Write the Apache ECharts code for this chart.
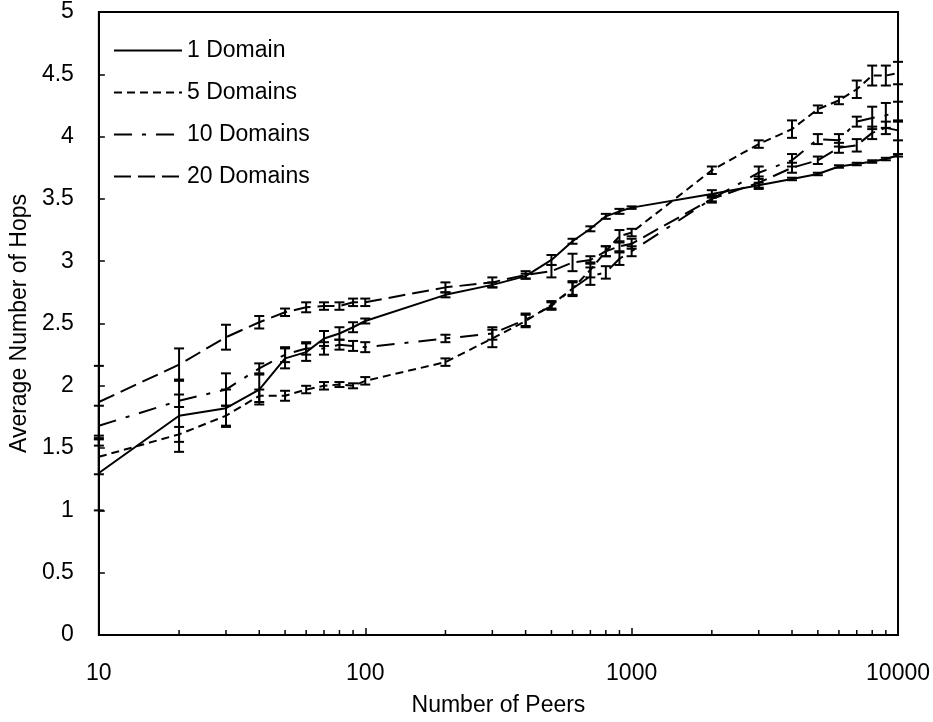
<!DOCTYPE html>
<html>
<head>
<meta charset="utf-8">
<script src="https://cdn.jsdelivr.net/npm/echarts@6/dist/echarts.min.js"></script>
<style>
  html, body { margin: 0; padding: 0; background: #fff; }
  #chart { width: 933px; height: 722px; }
</style>
</head>
<body>
<div id="chart"></div>
<script>
// Number of peers (x positions on the log axis)
const peers = [10, 20, 30, 40, 50, 60, 70, 80, 90, 100,
  200, 300, 400, 500, 600, 700, 800, 900, 1000,
  2000, 3000, 4000, 5000, 6000, 7000, 8000, 9000, 10000];

// Mean number of hops per domain count
const hops1 = [1.30, 1.76, 1.82, 1.97, 2.22, 2.27, 2.38, 2.42, 2.47, 2.52,
  2.73, 2.81, 2.88, 3.01, 3.16, 3.26, 3.36, 3.40, 3.43,
  3.54, 3.61, 3.66, 3.70, 3.76, 3.78, 3.80, 3.82, 3.85];
const hops5 = [1.43, 1.61, 1.76, 1.92, 1.92, 1.97, 2.00, 2.01, 2.00, 2.04,
  2.19, 2.38, 2.52, 2.65, 2.78, 2.93, 3.08, 3.20, 3.23,
  3.73, 3.94, 4.06, 4.22, 4.29, 4.38, 4.49, 4.49, 4.51];
const hops10 = [1.68, 1.88, 1.97, 2.14, 2.25, 2.30, 2.30, 2.33, 2.32, 2.31,
  2.38, 2.42, 2.53, 2.64, 2.78, 2.88, 2.91, 3.02, 3.08,
  3.50, 3.71, 3.81, 3.98, 3.97, 4.12, 4.15, 4.17, 4.20];
const hops20 = [1.87, 2.17, 2.39, 2.51, 2.59, 2.63, 2.64, 2.64, 2.67, 2.67,
  2.79, 2.83, 2.89, 2.92, 2.99, 3.01, 3.08, 3.12, 3.14,
  3.50, 3.63, 3.75, 3.81, 3.91, 3.93, 4.03, 4.07, 4.05];

// Half-width of the error bars
const err1 = [0.30, 0.29, 0.15, 0.12, 0.08, 0.07, 0.06, 0.05, 0.04, 0.02,
  0.02, 0.02, 0.02, 0.04, 0.02, 0.02, 0.02, 0.02, 0.01,
  0.03, 0.02, 0.01, 0.01, 0.01, 0.01, 0.01, 0.01, 0.01];
const err5 = [0.14, 0.06, 0.08, 0.05, 0.04, 0.03, 0.03, 0.02, 0.02, 0.03,
  0.03, 0.07, 0.05, 0.03, 0.05, 0.06, 0.04, 0.05, 0.03,
  0.03, 0.03, 0.07, 0.03, 0.03, 0.07, 0.08, 0.08, 0.09];
const err10 = [0.16, 0.05, 0.13, 0.04, 0.06, 0.05, 0.05, 0.04, 0.04, 0.04,
  0.03, 0.05, 0.05, 0.03, 0.06, 0.07, 0.05, 0.05, 0.04,
  0.03, 0.05, 0.05, 0.04, 0.05, 0.04, 0.09, 0.10, 0.08];
const err20 = [0.29, 0.13, 0.10, 0.05, 0.03, 0.04, 0.03, 0.03, 0.03, 0.03,
  0.04, 0.04, 0.03, 0.05, 0.07, 0.03, 0.04, 0.04, 0.04,
  0.02, 0.05, 0.04, 0.03, 0.04, 0.05, 0.05, 0.05, 0.08];

const seriesNames = ['1 Domain', '5 Domains', '10 Domains', '20 Domains'];
const xTickLabels = ['10', '100', '1000', '10000'];
const minorTickValues = [20, 30, 40, 50, 60, 70, 80, 90,
  200, 300, 400, 500, 600, 700, 800, 900,
  2000, 3000, 4000, 5000, 6000, 7000, 8000, 9000];

const FONT = 'Liberation Sans, Arial, sans-serif';
const FS = 23;

const means = [hops1, hops5, hops10, hops20];
const errs = [err1, err5, err10, err20];
// solid, short dash, dash-dot, long dash
const dashes = ['solid', [8, 5], [18, 10, 4, 10], [17, 7]];

function pairs(vals) {
  return peers.map((p, i) => [p, vals[i]]);
}
function errData(vals, e) {
  return peers.map((p, i) => [p, vals[i] - e[i], vals[i] + e[i]]);
}

function renderErrorBar(params, api) {
  const x = api.value(0);
  const lo = api.coord([x, api.value(1)]);
  const hi = api.coord([x, api.value(2)]);
  const cap = 5;
  const style = { stroke: '#000', lineWidth: 2 };
  return {
    type: 'group',
    children: [
      { type: 'line', shape: { x1: lo[0], y1: lo[1], x2: hi[0], y2: hi[1] }, style },
      { type: 'line', shape: { x1: lo[0] - cap, y1: lo[1], x2: lo[0] + cap, y2: lo[1] }, style },
      { type: 'line', shape: { x1: hi[0] - cap, y1: hi[1], x2: hi[0] + cap, y2: hi[1] }, style }
    ]
  };
}

function renderMinorTick(params, api) {
  const p = api.coord([api.value(0), 0]);
  return {
    type: 'line',
    shape: { x1: p[0], y1: p[1], x2: p[0], y2: p[1] - 5 },
    style: { stroke: '#000', lineWidth: 1.5 }
  };
}

const series = [];
seriesNames.forEach((name, k) => {
  series.push({
    name,
    type: 'line',
    data: pairs(means[k]),
    symbol: 'none',
    lineStyle: { color: '#000', width: 2, type: dashes[k] },
    itemStyle: { color: '#000' },
    z: 3,
    animation: false
  });
});
seriesNames.forEach((name, k) => {
  series.push({
    name: name + ' error',
    type: 'custom',
    renderItem: renderErrorBar,
    data: errData(means[k], errs[k]),
    encode: { x: 0, y: [1, 2] },
    z: 4,
    animation: false
  });
});
series.push({
  name: 'minor ticks',
  type: 'custom',
  renderItem: renderMinorTick,
  data: minorTickValues.map(v => [v]),
  encode: { x: 0 },
  clip: false,
  z: 5,
  animation: false
});

const chart = echarts.init(document.getElementById('chart'), null, { renderer: 'canvas' });
chart.setOption({
  animation: false,
  backgroundColor: '#fff',
  textStyle: { fontFamily: FONT },
  grid: {
    left: 92, right: 33, top: 12, bottom: 84,
    show: true, borderColor: '#000', borderWidth: 2, backgroundColor: 'transparent'
  },
  legend: {
    data: seriesNames,
    orient: 'vertical',
    left: 108,
    top: 34,
    itemWidth: 68,
    itemHeight: 23,
    itemGap: 19,
    itemStyle: { color: 'rgba(0,0,0,0)', borderWidth: 0, opacity: 0 },
    textStyle: { fontFamily: FONT, fontSize: FS, color: '#000' },
    inactiveColor: '#000'
  },
  xAxis: {
    type: 'log',
    logBase: 10,
    min: 10,
    max: 10000,
    name: 'Number of Peers',
    nameLocation: 'middle',
    nameGap: 59,
    nameTextStyle: { fontFamily: FONT, fontSize: FS, color: '#000' },
    axisLine: { lineStyle: { color: '#000', width: 2 } },
    axisTick: { inside: true, length: 7, lineStyle: { color: '#000', width: 1.5 } },
    axisLabel: {
      margin: 27,
      fontFamily: FONT, fontSize: FS, color: '#000',
      formatter: v => {
        const s = String(Math.round(v));
        return xTickLabels.indexOf(s) >= 0 ? s : '';
      }
    },
    splitLine: { show: false },
    minorTick: { show: false }
  },
  yAxis: {
    type: 'value',
    min: 0,
    max: 5,
    interval: 0.5,
    name: 'Average Number of Hops',
    nameLocation: 'middle',
    nameGap: 64,
    nameTextStyle: { fontFamily: FONT, fontSize: FS, color: '#000' },
    axisLine: { lineStyle: { color: '#000', width: 2 } },
    axisTick: { inside: true, length: 6, lineStyle: { color: '#000', width: 1.5 } },
    axisLabel: { margin: 25, fontFamily: FONT, fontSize: FS, color: '#000' },
    splitLine: { show: false }
  },
  series
});
</script>
</body>
</html>
